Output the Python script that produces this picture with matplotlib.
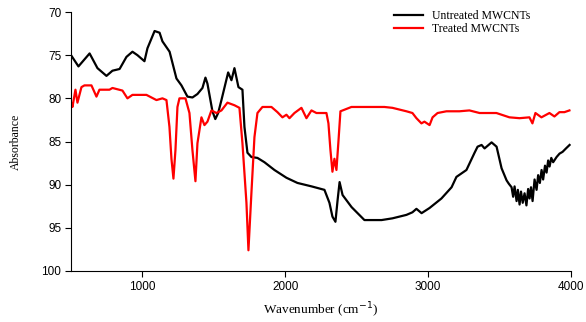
import matplotlib
matplotlib.use("Agg")
import matplotlib.pyplot as plt

# Untreated MWCNTs (black)
untreated_wn = [500, 552, 630, 685, 748, 790, 840, 888, 930, 965, 1014, 1035, 1085, 1120, 1140,
                1190, 1238, 1273, 1315, 1350, 1385, 1420, 1441, 1455, 1490, 1510, 1530, 1553,
                1600, 1623, 1644, 1672, 1700, 1714, 1735, 1763, 1805, 1854, 1924, 2008, 2085,
                2184, 2274, 2309, 2330, 2351, 2366, 2380, 2401, 2464, 2506, 2554, 2674, 2750,
                2848, 2890, 2918, 2954, 3010, 3093, 3164, 3198, 3268, 3325, 3346, 3374, 3395,
                3444, 3479, 3514, 3549, 3565, 3584, 3595, 3605, 3619, 3628, 3640, 3650, 3662,
                3675, 3688, 3700, 3710, 3720, 3731, 3745, 3759, 3770, 3782, 3794, 3805, 3818,
                3829, 3840, 3850, 3862, 3875, 3899, 3920, 3941, 3965, 3990]
untreated_ab = [75.0, 76.3, 74.8, 76.5, 77.4, 76.8, 76.6, 75.2, 74.6, 75.0, 75.7, 74.2, 72.2, 72.4, 73.4,
                74.6, 77.7, 78.5, 79.8, 79.9, 79.5, 78.8, 77.6, 78.3, 81.5, 82.4, 81.7, 80.2,
                77.0, 77.9, 76.5, 78.7, 79.0, 83.3, 86.3, 86.8, 86.9, 87.4, 88.3, 89.2, 89.8,
                90.2, 90.6, 92.1, 93.7, 94.3, 91.8, 89.7, 91.2, 92.6, 93.3, 94.1, 94.1, 93.9,
                93.5, 93.2, 92.8, 93.3, 92.7, 91.6, 90.3, 89.1, 88.3, 86.3, 85.6, 85.4, 85.8,
                85.1, 85.6, 88.1, 89.5, 89.9, 90.3, 91.4, 90.2, 91.9, 90.6, 92.3, 90.8, 92.1,
                91.0, 92.4, 90.5, 91.6, 90.3, 91.9, 89.4, 90.6, 88.9, 89.8, 88.3, 89.4, 87.8,
                88.6, 87.2, 87.9, 86.9, 87.4, 86.8, 86.4, 86.2, 85.8, 85.4]

# Treated MWCNTs (red)
treated_wn = [500, 510, 531, 545, 573, 594, 643, 678, 699, 769, 790, 860, 895, 930, 1028, 1098,
              1140, 1168, 1189, 1203, 1217, 1231, 1245, 1259, 1301, 1329, 1350, 1371, 1385,
              1413, 1434, 1455, 1483, 1518, 1553, 1595, 1644, 1679, 1700, 1728, 1742, 1763,
              1784, 1805, 1840, 1903, 1945, 1980, 2008, 2029, 2064, 2113, 2148, 2183, 2218,
              2288, 2302, 2316, 2330, 2344, 2358, 2372, 2386, 2463, 2694, 2750, 2848, 2890,
              2918, 2953, 2974, 3010, 3031, 3066, 3128, 3219, 3289, 3360, 3380, 3478, 3569,
              3640, 3709, 3730, 3751, 3793, 3849, 3884, 3919, 3954, 3989]
treated_ab = [80.5, 81.0, 79.0, 80.5, 78.7, 78.5, 78.5, 79.8, 79.0, 79.0, 78.8, 79.1, 80.0, 79.6, 79.6, 80.2,
              80.0, 80.2, 83.3, 87.0, 89.3, 86.0, 81.0, 80.0, 80.0, 81.7, 86.0, 89.6, 85.2,
              82.2, 83.1, 82.7, 81.4, 81.7, 81.4, 80.5, 80.8, 81.1, 85.2, 92.1, 97.6, 90.9,
              84.5, 81.7, 81.0, 81.0, 81.6, 82.2, 81.9, 82.3, 81.7, 81.1, 82.3, 81.4, 81.7,
              81.7, 82.9, 86.0, 88.5, 87.0, 88.3, 85.0, 81.5, 81.0, 81.0, 81.1, 81.5, 81.7,
              82.3, 82.9, 82.7, 83.1, 82.2, 81.7, 81.5, 81.5, 81.4, 81.7, 81.7, 81.7, 82.2,
              82.3, 82.2, 82.9, 81.7, 82.2, 81.7, 82.1, 81.6, 81.6, 81.4]

x_ticks = [1000, 2000, 3000, 4000]
y_ticks = [70, 75, 80, 85, 90, 95, 100]

fig = plt.figure(figsize=(5.86, 3.22), dpi=100)
ax = fig.add_axes([0.1212, 0.1584, 0.8532, 0.8043])

ax.plot(untreated_wn, untreated_ab, color="black", lw=1.6, label="Untreated MWCNTs")
ax.plot(treated_wn, treated_ab, color="red", lw=1.6, label="Treated MWCNTs")

ax.set_xlim(500, 4000)
ax.set_ylim(100, 70)
ax.set_xticks(x_ticks)
ax.set_yticks(y_ticks)
ax.spines["top"].set_visible(False)
ax.spines["right"].set_visible(False)
for s in ("left", "bottom"):
    ax.spines[s].set_linewidth(0.8)
ax.tick_params(direction="out", length=4, width=0.8, labelsize=8.5, pad=3)
for lab in ax.get_xticklabels() + ax.get_yticklabels():
    lab.set_family("Liberation Sans")

ax.set_xlabel("Wavenumber (cm$^{-1}$)", family="Liberation Serif", fontsize=9.5, labelpad=6)
ax.set_ylabel("Absorbance", family="Liberation Serif", fontsize=8.5, labelpad=14)

leg = ax.legend(loc="upper right", bbox_to_anchor=(0.94, 1.05), frameon=False,
                prop={"family": "Liberation Serif", "size": 8.5},
                handlelength=2.4, handletextpad=0.8, labelspacing=0.1)

fig.savefig("out.png", dpi=100)
